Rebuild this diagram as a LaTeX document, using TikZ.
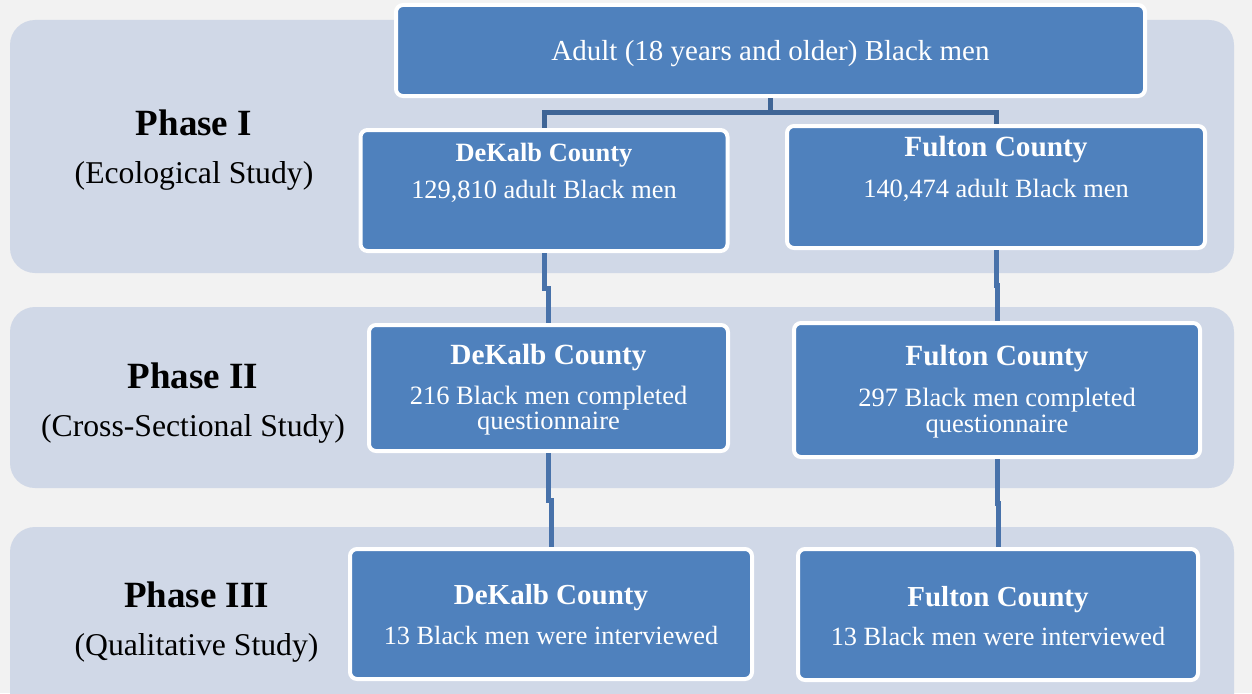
\documentclass[tikz,border=0pt]{standalone}
\usepackage{fontspec}
\setmainfont{Liberation Serif}
\definecolor{bgc}{HTML}{F2F2F2}
\definecolor{bandc}{HTML}{D0D8E7}
\definecolor{boxc}{HTML}{4F81BD}
\definecolor{conntop}{HTML}{3F6596}
\definecolor{connc}{HTML}{4872AA}
\tikzset{
  band/.style={fill=bandc, rounded corners=25pt},
  box/.style={draw=white, line width=4pt, fill=boxc, rounded corners=7pt, inner sep=0pt},
  wt/.style={text=white, anchor=base, inner sep=0pt},
  bt/.style={text=black, anchor=base, inner sep=0pt},
  conn/.style={draw=connc, line width=5pt, line join=miter},
}
\newcommand{\fs}[1]{\fontsize{#1}{#1}\selectfont}
\begin{document}
\begin{tikzpicture}[x=1pt,y=-1pt]
\useasboundingbox (0,0) rectangle (1252,693);
\clip (0,0) rectangle (1252,693);
\fill[bgc] (0,0) rectangle (1252,693);
% bands
\fill[band] (10,20) rectangle (1234,273);
\fill[band] (10,307) rectangle (1234,488);
\fill[band] (10,527) rectangle (1234,730);
% phase labels
\node[bt] (p1) at (194,135) {\fs{37}\bfseries Phase I};
\node[bt] (p1s) at (194,183) {\fs{31.7}(Ecological Study)};
\node[bt] (p2) at (193,388) {\fs{37}\bfseries Phase II};
\node[bt] (p2s) at (193,436) {\fs{31.7}(Cross-Sectional Study)};
\node[bt] (p3) at (196.5,607) {\fs{37}\bfseries Phase III};
\node[bt] (p3s) at (196.5,655) {\fs{31.7}(Qualitative Study)};
% boxes
\node[box, minimum width=749pt, minimum height=91pt] (top) at (770.5,50.5) {};
\node[box, minimum width=367pt, minimum height=121pt] (d1) at (544,190.5) {};
\node[box, minimum width=418pt, minimum height=122pt] (f1) at (996,187) {};
\node[box, minimum width=359pt, minimum height=126pt] (d2) at (548.5,388) {};
\node[box, minimum width=406pt, minimum height=134pt] (f2) at (997,390) {};
\node[box, minimum width=402pt, minimum height=130pt] (d3) at (551,614) {};
\node[box, minimum width=400pt, minimum height=131pt] (f3) at (998,614.5) {};
% box texts
\node[wt] (tt) at (770.5,60) {\fs{29}Adult (18 years and older) Black men};
\node[wt] (d1a) at (544,161.7) {\fs{26.4}\bfseries DeKalb County};
\node[wt] (d1b) at (544,198.3) {\fs{26.4}129,810 adult Black men};
\node[wt] (f1a) at (996,156.7) {\fs{29.3}\bfseries Fulton County};
\node[wt] (f1b) at (996,197.3) {\fs{26.4}140,474 adult Black men};
\node[wt] (d2a) at (548.5,364) {\fs{29.3}\bfseries DeKalb County};
\node[wt] (d2b) at (548.5,404) {\fs{26.5}216 Black men completed};
\node[wt] (d2c) at (548.5,429) {\fs{26.5}questionnaire};
\node[wt] (f2a) at (997,365.7) {\fs{29.3}\bfseries Fulton County};
\node[wt] (f2b) at (997,406) {\fs{26.5}297 Black men completed};
\node[wt] (f2c) at (997,432.5) {\fs{26.5}questionnaire};
\node[wt] (d3a) at (551,604) {\fs{29}\bfseries DeKalb County};
\node[wt] (d3b) at (551,644) {\fs{26.3}13 Black men were interviewed};
\node[wt] (f3a) at (998,606) {\fs{29}\bfseries Fulton County};
\node[wt] (f3b) at (998,645) {\fs{26.3}13 Black men were interviewed};
% connectors
\coordinate (bus) at (770.5,112);
\draw[conn, draw=conntop] (top.south) -- (bus) -| (d1.north);
\draw[conn, draw=conntop] (bus) -| (f1.north);
\coordinate (j1) at (0,288);
\coordinate (j2) at (0,285);
\coordinate (j3) at (0,500);
\coordinate (j4) at (0,503);
\draw[conn] (d1.south) -- (d1.south |- j1) -- (d2.north |- j1) -- (d2.north);
\draw[conn] (f1.south) -- (f1.south |- j2) -- (f2.north |- j2) -- (f2.north);
\draw[conn] (d2.south) -- (d2.south |- j3) -- (d3.north |- j3) -- (d3.north);
\draw[conn] (f2.south) -- (f2.south |- j4) -- (f3.north |- j4) -- (f3.north);
\end{tikzpicture}
\end{document}
